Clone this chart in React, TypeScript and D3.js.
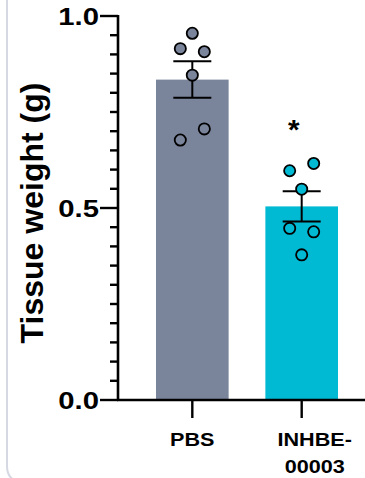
import React from "react";
import * as d3 from "d3";

// group names and individual tissue weights (g)
const groups = ["PBS", "INHBE-00003"];
const pbsValues = [0.955, 0.915, 0.907, 0.846, 0.706, 0.677];
const inhbeValues = [0.616, 0.597, 0.549, 0.447, 0.438, 0.378];
const yTickLabels = ["0.0", "0.5", "1.0"];

const colors = ["#7a849b", "#00b9d3"];
// column offsets for the scatter (-1 left, 0 centre, 1 right)
const jitter = [
  [0, -1, 1, 0, 1, -1],
  [1, -1, 0, -1, 1, 0],
];

const W = 365;
const H = 478;
const font = "'Liberation Sans', Arial, sans-serif";

// bold text, slightly widened like the exported figure
function Label({ x, y, children, anchor = "middle", size = 18, sx = 1.2, dy = "0" }: any) {
  return (
    <text
      transform={`translate(${x},${y}) scale(${sx},1)`}
      textAnchor={anchor}
      dy={dy}
      fontFamily={font}
      fontWeight="bold"
      fontSize={size}
    >
      {children}
    </text>
  );
}

export default function App() {
  const series = [pbsValues, inhbeValues];
  const stats = series.map((v) => {
    const mean = d3.mean(v) as number;
    const sem = (d3.deviation(v) as number) / Math.sqrt(v.length);
    return { mean, sem };
  });

  const y = d3.scaleLinear().domain([0, 1]).range([400, 16]);
  const x = d3
    .scaleBand()
    .domain(groups)
    .range([156, 338])
    .paddingInner(0.336)
    .paddingOuter(0);

  const axisX = 118;
  const minorTicks = d3.range(0, 1.0001, 0.05);
  const bw = x.bandwidth();
  const cx = (g: string) => (x(g) as number) + bw / 2;

  return (
    <svg
      width={W}
      height={H}
      style={{ position: "absolute", left: 0, top: 0, display: "block" }}
    >
      <rect width={W} height={H} fill="#fff" />
      {/* light frame edge on the left */}
      <path d="M7,0 L7,466 Q7,476 14,480" fill="none" stroke="#d6d9e3" strokeWidth={2} />

      {/* bars */}
      {groups.map((g, i) => (
        <rect
          key={g}
          x={x(g)}
          y={y(stats[i].mean)}
          width={bw}
          height={y(0) - y(stats[i].mean)}
          fill={colors[i]}
        />
      ))}

      {/* error bars (SEM) */}
      {groups.map((g, i) => {
        const hi = y(stats[i].mean + stats[i].sem);
        const lo = y(stats[i].mean - stats[i].sem);
        return (
          <g key={g} stroke="#000" strokeWidth={2}>
            <line x1={cx(g)} x2={cx(g)} y1={hi} y2={lo} />
            <line x1={cx(g) - 19} x2={cx(g) + 19} y1={hi} y2={hi} />
            <line x1={cx(g) - 19} x2={cx(g) + 19} y1={lo} y2={lo} />
          </g>
        );
      })}

      {/* points */}
      {groups.map((g, i) =>
        series[i].map((v, j) => (
          <circle
            key={g + j}
            cx={cx(g) + jitter[i][j] * 12}
            cy={y(v)}
            r={5.6}
            fill={colors[i]}
            stroke="#000"
            strokeWidth={1.8}
          />
        ))
      )}

      {/* significance */}
      <Label x={cx(groups[1]) - 8} y={y(d3.max(inhbeValues) as number) - 24} size={27} sx={1.1}>
        *
      </Label>

      {/* y axis */}
      <g stroke="#000">
        <line x1={axisX} x2={axisX} y1={y(1) - 1} y2={y(0) + 1} strokeWidth={2.6} />
        {minorTicks.map((t) => {
          const major = Math.abs(t * 2 - Math.round(t * 2)) < 1e-6;
          return (
            <line
              key={t}
              x1={major ? 100 : 110}
              x2={axisX}
              y1={y(t)}
              y2={y(t)}
              strokeWidth={2.4}
            />
          );
        })}
      </g>
      {yTickLabels.map((lab) => (
        <Label key={lab} x={99} y={y(+lab)} dy="0.36em" anchor="end" size={24} sx={1.22}>
          {lab}
        </Label>
      ))}
      <text
        transform={`translate(43,${(y(0) + y(1)) / 2 + 5}) rotate(-90)`}
        textAnchor="middle"
        fontFamily={font}
        fontWeight="bold"
        fontSize={32}
      >
        Tissue weight (g)
      </text>

      {/* x axis */}
      <g stroke="#000">
        <line x1={axisX - 1} x2={W} y1={y(0)} y2={y(0)} strokeWidth={2.6} />
        {groups.map((g) => (
          <line key={g} x1={cx(g)} x2={cx(g)} y1={y(0)} y2={y(0) + 18} strokeWidth={2.4} />
        ))}
      </g>
      <Label x={cx(groups[0])} y={446}>
        {groups[0]}
      </Label>
      <Label x={cx(groups[1]) + 13} y={446}>
        {groups[1].split("-")[0] + "-"}
      </Label>
      <Label x={cx(groups[1]) + 13} y={473}>
        {groups[1].split("-")[1]}
      </Label>
    </svg>
  );
}
